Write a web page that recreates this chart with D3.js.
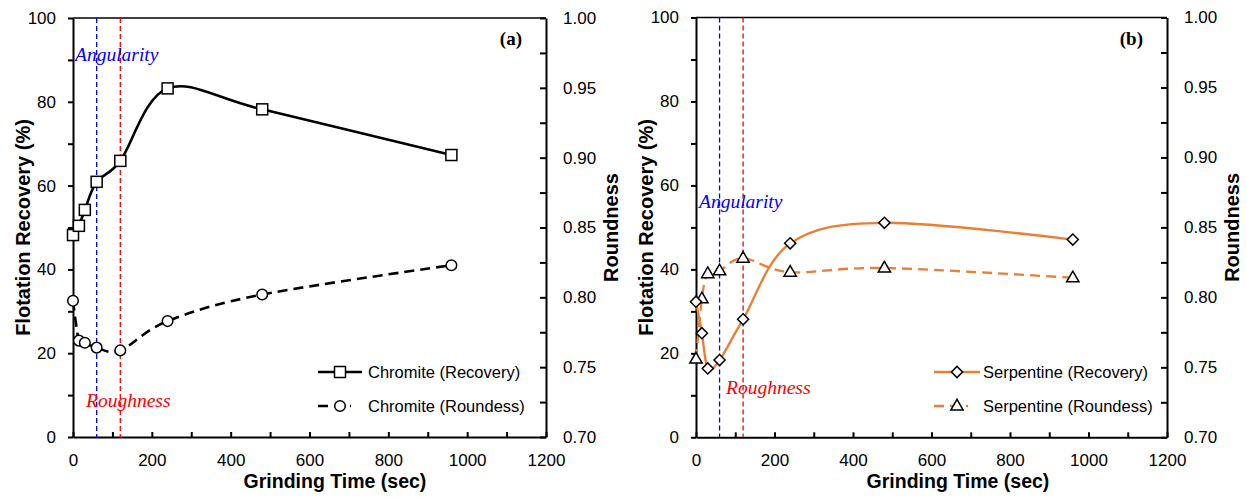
<!DOCTYPE html>
<html>
<head>
<meta charset="utf-8">
<script src="https://cdn.jsdelivr.net/npm/d3@7"></script>
<style>
  body { margin: 0; background: #fff; }
  svg { display: block; }
</style>
</head>
<body>
<div id="chart"></div>
<script>

// ---------------------------------------------------------------- data

const TIME_SEC = [0, 15, 30, 60, 120, 240, 480, 960];

const CHROMITE_RECOVERY  = [48.2, 50.4, 54.2, 60.9, 65.9, 83.2, 78.2, 67.3];
const CHROMITE_ROUNDNESS = [0.7975, 0.769, 0.7675, 0.764, 0.762, 0.783, 0.802, 0.823];

const SERPENTINE_RECOVERY  = [32.3, 24.8, 16.4, 18.4, 28.1, 46.2, 51.1, 47.1];
const SERPENTINE_ROUNDNESS = [0.756, 0.799, 0.817, 0.819, 0.828, 0.818, 0.821, 0.814];

const TIME_TICKS       = [0, 200, 400, 600, 800, 1000, 1200];
const TIME_MINOR       = [100, 300, 500, 700, 900, 1100];
const RECOVERY_TICKS   = [0, 20, 40, 60, 80, 100];
const RECOVERY_MINOR   = [10, 30, 50, 70, 90];
const ROUNDNESS_TICKS  = [0.70, 0.75, 0.80, 0.85, 0.90, 0.95, 1.00];
const ROUNDNESS_MINOR  = [0.725, 0.775, 0.825, 0.875, 0.925, 0.975];

const ANGULARITY_SEC = 60;
const ROUGHNESS_SEC  = 120;

// ---------------------------------------------------------------- style

const SVG_W = 1247;
const SVG_H = 497;

const COLOR_BLACK  = "#000000";
const COLOR_ORANGE = "#ED7D31";
const COLOR_BLUE   = "#0000FF";
const COLOR_RED    = "#FF0000";

const FONT_SANS  = "'Liberation Sans', Arial, sans-serif";
const FONT_SERIF = "'Liberation Serif', 'Times New Roman', serif";

const panels = [
    {
        x0: 73, x1: 546, y0: 18, y1: 437,
        tag: "(a)",
        color: COLOR_BLACK,
        recovery: CHROMITE_RECOVERY,
        roundness: CHROMITE_ROUNDNESS,
        recoveryName: "Chromite (Recovery)",
        roundnessName: "Chromite (Roundess)",
        recoveryMarker: "square",
        roundnessMarker: "circle",
        angularityPos: [75, 61],
        roughnessPos: [86, 407],
        legend: { lx0: 318, lx1: 362, mx: 340, tx: 368 }
    },
    {
        x0: 696, x1: 1167, y0: 17.5, y1: 437.3,
        tag: "(b)",
        color: COLOR_ORANGE,
        recovery: SERPENTINE_RECOVERY,
        roundness: SERPENTINE_ROUNDNESS,
        recoveryName: "Serpentine (Recovery)",
        roundnessName: "Serpentine (Roundess)",
        recoveryMarker: "diamond",
        roundnessMarker: "triangle",
        angularityPos: [699, 208],
        roughnessPos: [726, 394],
        legend: { lx0: 934, lx1: 980, mx: 957, tx: 983 }
    }
];

// ---------------------------------------------------------------- draw

let svg = d3.select("#chart")
            .append("svg")
                .attr("width", SVG_W)
                .attr("height", SVG_H);

function drawMarker(g, type, x, y) {
    let m;
    if (type === "square") {
        m = g.append("rect")
                .attr("x", x - 5.5).attr("y", y - 5.5)
                .attr("width", 11).attr("height", 11);
    } else if (type === "circle") {
        m = g.append("circle")
                .attr("cx", x).attr("cy", y).attr("r", 5.3);
    } else if (type === "diamond") {
        m = g.append("path")
                .attr("d", d3.symbol(d3.symbolSquare, 62)())
                .attr("transform", "translate(" + x + "," + y + ") rotate(45)");
    } else {
        m = g.append("path")
                .attr("d", d3.symbol(d3.symbolTriangle, 66)())
                .attr("transform", "translate(" + x + "," + (y + 0.5) + ")");
    }
    m.attr("fill", "#fff")
     .attr("stroke", COLOR_BLACK)
     .attr("stroke-width", 1.5);
}

function styleAxis(g) {
    g.select(".domain").attr("stroke", COLOR_BLACK).attr("stroke-width", 2);
    g.selectAll(".tick line").attr("stroke", COLOR_BLACK).attr("stroke-width", 2);
    g.selectAll(".tick text")
        .attr("font-family", FONT_SANS)
        .attr("font-size", 17)
        .attr("fill", COLOR_BLACK);
}

function drawPanel(p) {

    let scaleX = d3.scaleLinear().domain([0, 1200]).range([p.x0, p.x1]);
    let scaleY = d3.scaleLinear().domain([0, 100]).range([p.y1, p.y0]);
    let scaleR = d3.scaleLinear().domain([0.70, 1.00]).range([p.y1, p.y0]);

    let g = svg.append("g");

    // top border
    g.append("line")
        .attr("x1", p.x0).attr("x2", p.x1)
        .attr("y1", p.y0).attr("y2", p.y0)
        .attr("stroke", COLOR_BLACK)
        .attr("stroke-width", 1.4);

    // axes
    let axisL = d3.axisLeft(scaleY)
                    .tickValues(RECOVERY_TICKS.concat(RECOVERY_MINOR))
                    .tickFormat(d => RECOVERY_TICKS.includes(d) ? d : "")
                    .tickSizeInner(5).tickSizeOuter(0).tickPadding(12);
    g.append("g").attr("transform", "translate(" + p.x0 + ",0)").call(axisL).call(styleAxis);

    let axisR = d3.axisRight(scaleR)
                    .tickValues(ROUNDNESS_TICKS.concat(ROUNDNESS_MINOR))
                    .tickFormat(d => ROUNDNESS_TICKS.includes(d) ? d3.format(".2f")(d) : "")
                    .tickSizeInner(-6).tickSizeOuter(0).tickPadding(17);
    g.append("g").attr("transform", "translate(" + p.x1 + ",0)").call(axisR).call(styleAxis);

    let axisB = d3.axisBottom(scaleX)
                    .tickValues(TIME_TICKS.concat(TIME_MINOR))
                    .tickFormat(d => TIME_TICKS.includes(d) ? d : "")
                    .tickSizeInner(-5).tickSizeOuter(0).tickPadding(17);
    g.append("g").attr("transform", "translate(0," + p.y1 + ")").call(axisB).call(styleAxis);

    // axis titles
    g.append("text")
        .attr("x", p.x0 + 262).attr("y", 488)
        .attr("text-anchor", "middle")
        .attr("font-family", FONT_SANS).attr("font-size", 19.5).attr("font-weight", "bold")
        .text("Grinding Time (sec)");

    g.append("text")
        .attr("transform", "translate(" + (p.x0 - 43) + "," + ((p.y0 + p.y1) / 2) + ") rotate(-90)")
        .attr("text-anchor", "middle")
        .attr("font-family", FONT_SANS).attr("font-size", 20).attr("font-weight", "bold")
        .text("Flotation Recovery (%)");

    g.append("text")
        .attr("transform", "translate(" + (p.x1 + 71.5) + "," + ((p.y0 + p.y1) / 2) + ") rotate(-90)")
        .attr("text-anchor", "middle")
        .attr("font-family", FONT_SANS).attr("font-size", 20).attr("font-weight", "bold")
        .text("Roundness");

    // panel tag
    g.append("text")
        .attr("x", p.x1 - 24).attr("y", 45)
        .attr("text-anchor", "end")
        .attr("font-family", FONT_SERIF).attr("font-size", 19).attr("font-weight", "bold")
        .text(p.tag);

    // vertical markers
    [[ANGULARITY_SEC, COLOR_BLUE], [ROUGHNESS_SEC, COLOR_RED]].forEach(function (v) {
        g.append("line")
            .attr("x1", scaleX(v[0])).attr("x2", scaleX(v[0]))
            .attr("y1", p.y0).attr("y2", p.y1)
            .attr("stroke", v[1])
            .attr("stroke-width", 1.3)
            .attr("stroke-dasharray", "5,3");
    });

    g.append("text")
        .attr("x", p.angularityPos[0]).attr("y", p.angularityPos[1])
        .attr("font-family", FONT_SERIF).attr("font-size", 19.5).attr("font-style", "italic")
        .attr("fill", COLOR_BLUE)
        .text("Angularity");

    g.append("text")
        .attr("x", p.roughnessPos[0]).attr("y", p.roughnessPos[1])
        .attr("font-family", FONT_SERIF).attr("font-size", 19.5).attr("font-style", "italic")
        .attr("fill", COLOR_RED)
        .text("Roughness");

    // series lines (smoothed, excel style)
    let lineRec = d3.line()
                    .x((d, i) => scaleX(TIME_SEC[i]))
                    .y(d => scaleY(d))
                    .curve(d3.curveCardinal.tension(0));

    let lineRnd = d3.line()
                    .x((d, i) => scaleX(TIME_SEC[i]))
                    .y(d => scaleR(d))
                    .curve(d3.curveCardinal.tension(0));

    let lw = p.color === COLOR_BLACK ? 2.6 : 2.3;

    g.append("path")
        .attr("d", lineRnd(p.roundness))
        .attr("fill", "none")
        .attr("stroke", p.color)
        .attr("stroke-width", lw)
        .attr("stroke-dasharray", "10,6");

    g.append("path")
        .attr("d", lineRec(p.recovery))
        .attr("fill", "none")
        .attr("stroke", p.color)
        .attr("stroke-width", lw);

    p.roundness.forEach((d, i) => drawMarker(g, p.roundnessMarker, scaleX(TIME_SEC[i]), scaleR(d)));
    p.recovery.forEach((d, i) => drawMarker(g, p.recoveryMarker, scaleX(TIME_SEC[i]), scaleY(d)));

    // legend
    let L = p.legend;
    let rows = [
        { y: 372, name: p.recoveryName, marker: p.recoveryMarker, dash: null },
        { y: 406, name: p.roundnessName, marker: p.roundnessMarker, dash: "10,6" }
    ];
    rows.forEach(function (r) {
        g.append("line")
            .attr("x1", L.lx0).attr("x2", r.dash ? L.mx + 11 : L.lx1)
            .attr("y1", r.y).attr("y2", r.y)
            .attr("stroke", p.color)
            .attr("stroke-width", lw)
            .attr("stroke-dasharray", r.dash);
        drawMarker(g, r.marker, L.mx, r.y);
        g.append("text")
            .attr("x", L.tx).attr("y", r.y + 6)
            .attr("font-family", FONT_SANS).attr("font-size", 16.5)
            .text(r.name);
    });
}

panels.forEach(drawPanel);

</script>
</body>
</html>
